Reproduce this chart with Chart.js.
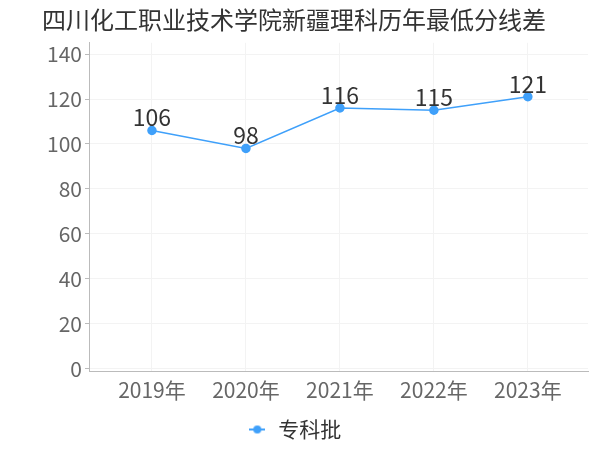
<!DOCTYPE html>
<html>
<head>
<meta charset="utf-8">
<script src="https://cdn.jsdelivr.net/npm/chart.js@4.4.1/dist/chart.umd.min.js"></script>
<style>
    html, body { margin: 0; padding: 0; background: #fff; }
    #wrap { width: 600px; height: 450px; }
</style>
</head>
<body>
<div id="wrap"><canvas id="lineChart"></canvas></div>
<script>
    "use strict";
    const chartTitle = '四川化工职业技术学院新疆理科历年最低分线差';
    const categories = ['2019年', '2020年', '2021年', '2022年', '2023年'];
    const seriesName = '专科批';
    const seriesValues = [106, 98, 116, 115, 121];
    const yTicks = [0, 20, 40, 60, 80, 100, 120, 140];

    const lineColor = '#3fa0fa';
    const fontFamily = '"Noto Sans CJK SC", "Noto Sans", sans-serif';

    // legend marker: short line with a dot in the middle
    let marker = document.createElement('canvas');
    marker.width = 16;
    marker.height = 10;
    let mctx = marker.getContext('2d');
    mctx.strokeStyle = lineColor;
    mctx.lineWidth = 2;
    mctx.beginPath();
    mctx.moveTo(0, 5);
    mctx.lineTo(16, 5);
    mctx.stroke();
    mctx.fillStyle = lineColor;
    mctx.beginPath();
    mctx.arc(8, 5, 4, 0, Math.PI * 2);
    mctx.fill();

    // value labels above points
    const valueLabels = {
        id: 'valueLabels',
        afterDatasetsDraw(chart) {
            const ctx = chart.ctx;
            const meta = chart.getDatasetMeta(0);
            ctx.save();
            ctx.font = '23px ' + fontFamily;
            ctx.fillStyle = '#333';
            ctx.textAlign = 'center';
            ctx.textBaseline = 'alphabetic';
            meta.data.forEach(function (pt, i) {
                ctx.fillText(String(seriesValues[i]), pt.x, pt.y - 4);
            });
            ctx.restore();
        }
    };

    const points = seriesValues.map(function (v, i) {
        return { x: i, y: v };
    });

    const data = {
        labels: categories,
        datasets: [
            {
                label: seriesName,
                data: points,
                borderColor: lineColor,
                backgroundColor: lineColor,
                borderWidth: 1.5,
                pointRadius: 4,
                pointHoverRadius: 4,
                tension: 0
            }
        ]
    };

    const config = {
        type: 'line',
        data: data,
        options: {
            responsive: false,
            animation: false,
            devicePixelRatio: 1,
            layout: {
                padding: { left: 0, right: 12, top: 0, bottom: 0 }
            },
            plugins: {
                title: {
                    display: true,
                    text: chartTitle,
                    color: '#333',
                    font: { size: 24, family: fontFamily, weight: 'normal', lineHeight: 1.2 },
                    padding: { top: 5, bottom: 9 }
                },
                legend: {
                    position: 'bottom',
                    labels: {
                        color: '#333',
                        font: { size: 21, family: fontFamily },
                        usePointStyle: true,
                        padding: 10,
                        generateLabels: function (chart) {
                            return [{
                                text: seriesName,
                                pointStyle: marker,
                                fontColor: '#333',
                                datasetIndex: 0,
                                hidden: false
                            }];
                        }
                    }
                },
                tooltip: { enabled: false }
            },
            scales: {
                x: {
                    type: 'linear',
                    min: -0.67,
                    max: 4.64,
                    afterBuildTicks: function (scale) {
                        scale.ticks = categories.map(function (c, i) { return { value: i }; });
                    },
                    ticks: {
                        color: '#666',
                        font: { size: 21, family: fontFamily },
                        padding: 6,
                        callback: function (value) {
                            return categories[value];
                        }
                    },
                    grid: {
                        color: '#f3f3f3',
                        drawTicks: false
                    },
                    border: { color: '#bbb' }
                },
                y: {
                    min: -1.33,
                    max: 145,
                    afterBuildTicks: function (scale) {
                        scale.ticks = yTicks.map(function (v) { return { value: v }; });
                    },
                    afterFit: function (scale) {
                        scale.width = 89;
                    },
                    ticks: {
                        color: '#666',
                        font: { size: 21, family: fontFamily },
                        padding: 3
                    },
                    grid: {
                        color: '#f3f3f3',
                        tickColor: '#bbb',
                        tickLength: 4
                    },
                    border: { color: '#bbb' }
                }
            }
        },
        plugins: [valueLabels]
    };

    const canvas = document.getElementById('lineChart');
    canvas.width = 600;
    canvas.height = 450;
    new Chart(canvas, config);
</script>
</body>
</html>
